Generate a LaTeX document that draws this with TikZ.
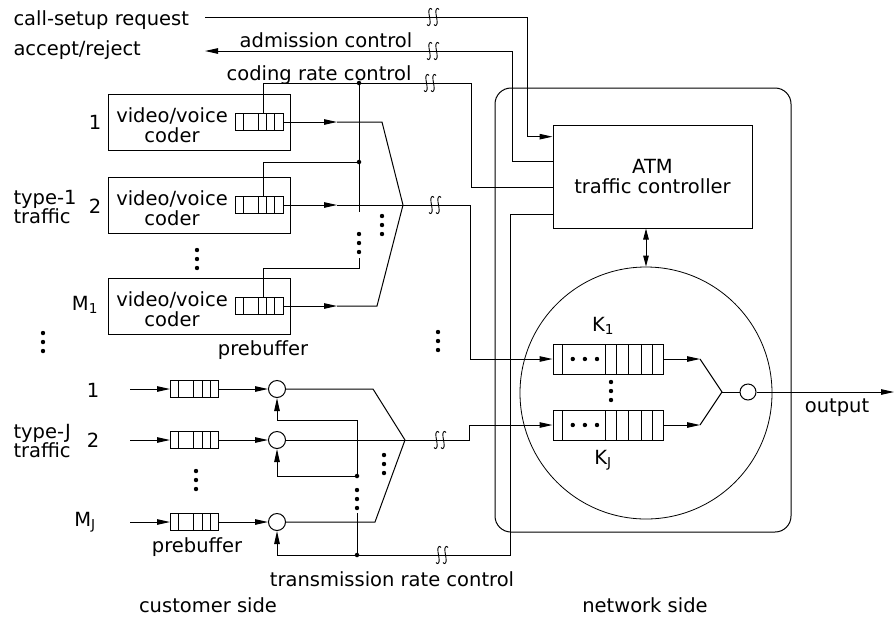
\documentclass[tikz,border=0pt]{standalone}
\usepackage{fontspec}
\setmainfont{DejaVu Sans}
\usetikzlibrary{arrows.meta,calc}

\tikzset{
  lbl/.style={inner sep=1pt, font=\fontsize{19.5}{19.5}\selectfont},
  arr/.style={-{Triangle[length=13pt,width=5.5pt]}},
  coder/.style={draw, minimum width=182pt, minimum height=56pt, inner sep=0pt},
  pbuf/.style={draw, fill=white, minimum width=48pt, minimum height=17pt, inner sep=0pt,
    path picture={\foreach \f in {0.17,0.48,0.66,0.83}
      \draw ($(path picture bounding box.north west)!\f!(path picture bounding box.north east)$)
         -- ($(path picture bounding box.south west)!\f!(path picture bounding box.south east)$);}},
  kbuf/.style={draw, fill=white, minimum width=110pt, minimum height=30pt, inner sep=0pt,
    path picture={\foreach \f in {0.09,0.473,0.58,0.69,0.80,0.90}
      \draw ($(path picture bounding box.north west)!\f!(path picture bounding box.north east)$)
         -- ($(path picture bounding box.south west)!\f!(path picture bounding box.south east)$);
      \foreach \f in {0.18,0.29,0.40}
      \fill[black] ($(path picture bounding box.west)!\f!(path picture bounding box.east)$) circle (2.2pt);}},
  srvc/.style={draw, circle, minimum size=17pt, inner sep=0pt},
  jdot/.style={circle, fill, inner sep=0pt, minimum size=4.5pt},
  % pics are drawn with y pointing up
  vdots/.pic={\fill (0,-9) circle (2.2pt) (0,0) circle (2.2pt) (0,9) circle (2.2pt);},
  brk/.pic={\foreach \d in {-3.5,3.5}
      \draw[line width=0.9pt] (\d+2.5,7.5) .. controls (\d+1,10) and (\d-1.5,8) .. (\d-0.5,3)
         -- (\d+0.5,-3) .. controls (\d+1.5,-8) and (\d-1,-10) .. (\d-2.5,-7.5);},
}

\begin{document}
\begin{tikzpicture}[x=1pt,y=1pt,yscale=-1,line width=1pt]
\useasboundingbox (0,0) rectangle (896,619);

% network side
\node[draw, rounded corners=16pt, minimum width=296pt, minimum height=444pt] (net) at (643,310) {};
\node[draw, line width=0.8pt, circle, minimum size=252pt, inner sep=0pt] (mux) at (646,393) {};
\node[draw, minimum width=199pt, minimum height=103pt, align=center, lbl] (ctl) at (652.5,176.5) {ATM\\traffic controller};
\node[kbuf] (q1) at (608,359) {};
\node[kbuf] (qJ) at (608,425) {};
\node[srvc, minimum size=16pt] (srv) at (748,392) {};
\node[lbl] (k1) at (603,326) {K\textsubscript{1}};
\node[lbl] (kJ) at (603,460) {K\textsubscript{J}};
\pic at (611,391) {vdots};
\draw[{Triangle[length=11pt,width=5.5pt]}-{Triangle[length=11pt,width=5.5pt]}] (mux.north |- ctl.south) -- (mux.north);

% controller entry points
\coordinate (ctlA) at ($(ctl.north west)!0.117!(ctl.south west)$);
\coordinate (ctlB) at ($(ctl.north west)!0.36!(ctl.south west)$);
\coordinate (ctlC) at ($(ctl.north west)!0.61!(ctl.south west)$);
\coordinate (ctlD) at ($(ctl.north west)!0.864!(ctl.south west)$);

% type-1 coders
\node[coder] (cod1) at (199,122) {};
\node[coder] (cod2) at (199,205) {};
\node[coder] (codM) at (199,306) {};
\node[lbl, align=center] (cod1t) at (172,125) {video/voice\\coder};
\node[lbl, align=center] (cod2t) at (172,208) {video/voice\\coder};
\node[lbl, align=center] (codMt) at (172,309) {video/voice\\coder};
\node[pbuf] (pb1) at (259,122) {};
\node[pbuf] (pb2) at (259,205) {};
\node[pbuf] (pbM) at (259,306) {};

% type-J sources
\node[pbuf] (jb1) at (194.5,389) {};
\node[pbuf] (jb2) at (194.5,440) {};
\node[pbuf] (jbM) at (194.5,522) {};
\node[srvc] (js1) at (277,389) {};
\node[srvc] (js2) at (277,440) {};
\node[srvc] (jsM) at (277,522) {};
\coordinate (ji1) at (130,389);
\coordinate (ji2) at (130,440);
\coordinate (jiM) at (130,522);

% call-setup request / admission control
\node[lbl, anchor=west] (csr) at (12,20) {call-setup request};
\node[lbl, anchor=west] (acc) at (12,50) {accept/reject};
\node[lbl] (adm) at (326,40) {admission control};
\node[lbl] (crc) at (319,75) {coding rate control};
\coordinate (cs0) at (205,17);
\coordinate (cs1) at (527,17);
\coordinate (ac0) at (205,51);
\coordinate (ac1) at (512,51);
\draw[arr] (cs0) -- (cs1) |- (ctlA);
\draw[arr] (ctlB) -| (ac1) -- (ac0);
\pic at (433,17) {brk};
\pic at (433,51) {brk};

% coding rate control
\coordinate (cr2) at (471,83);
\coordinate (cr1) at (263,83);
\coordinate (crj) at (359,83);
\coordinate (crk) at (359,162);
\coordinate (crv1) at (359,212);
\coordinate (crv2) at (359,258);
\coordinate (crm) at (359,268);
\draw (ctlC) -| (cr2) -- (cr1) -- (cr1 |- pb1.north);
\draw (crj) -- (crv1);
\draw (crk) -- (crk -| cr1) -- (cr1 |- pb2.north);
\draw (crv2) -- (crm) -| (cr1 |- pbM.north);
\node[jdot] at (crj) {};
\node[jdot] at (crk) {};
\pic at (430,83) {brk};
\pic at (359,243) {vdots};

% type-1 flows
\coordinate (a1) at (337,122);
\coordinate (a2) at (337,205);
\coordinate (aM) at (337,306);
\coordinate (b1) at (382,122);
\coordinate (bM) at (377,306);
\coordinate (mg1) at (403,205);
\coordinate (f1a) at (470,205);
\draw[arr] (pb1.east) -- (a1);
\draw[arr] (pb2.east) -- (a2);
\draw[arr] (pbM.east) -- (aM);
\draw (a1) -- (b1) -- (mg1);
\draw (a2) -- (mg1);
\draw (aM) -- (bM) -- (mg1);
\draw[arr] (mg1) -- (f1a) |- (q1.west);
\pic at (435,205) {brk};
\pic at (382,225) {vdots};

% type-J flows
\coordinate (jc1) at (373,389);
\coordinate (jcM) at (375,522);
\coordinate (mgJ) at (405,440);
\coordinate (fJa) at (469,440);
\foreach \r in {1,2,M} {
  \draw[arr] (ji\r) -- (jb\r.west);
  \draw[arr] (jb\r.east) -- (js\r.west);
}
\draw (js1.east) -- (jc1) -- (mgJ);
\draw (js2.east) -- (mgJ);
\draw (jsM.east) -- (jcM) -- (mgJ);
\draw[arr] (mgJ) -- (fJa) |- (qJ.west);
\pic at (440,440) {brk};
\pic at (384,464) {vdots};

% transmission rate control
\coordinate (tr2) at (510,555);
\coordinate (trj) at (357,555);
\coordinate (trk) at (357,476);
\coordinate (trv1) at (357,420);
\coordinate (trv2) at (357,513);
\draw[arr] (ctlD) -| (tr2) -| (jsM.south);
\draw (trj) -- (trv2);
\draw[arr] (trk) -- (trv1) -| (js1.south);
\draw[arr] (trk) -| (js2.south);
\node[jdot] at (trk) {};
\node[jdot] at (trj) {};
\pic at (442,555) {brk};
\pic at (357,499) {vdots};

% multiplexer output
\coordinate (o1) at (700,359);
\coordinate (oJ) at (700,425);
\coordinate (mo) at (722,392);
\coordinate (out) at (894,392);
\draw[arr] (q1.east) -- (o1);
\draw[arr] (qJ.east) -- (oJ);
\draw (o1) -- (mo) -- (oJ);
\draw (mo) -- (srv.west);
\draw[arr] (srv.east) -- (out);

% Text Node
\node[lbl] (n11) at (95,122) {1};
\node[lbl] (n12) at (95,206) {2};
\node[lbl] (n1M) at (85,305) {M\textsubscript{1}};
\node[lbl, anchor=west, align=left] (t1) at (12,207) {type-1\\traffic};
\node[lbl] (nJ1) at (93,390) {1};
\node[lbl] (nJ2) at (93,440) {2};
\node[lbl] (nJM) at (85,522) {M\textsubscript{J}};
\node[lbl, anchor=west, align=left] (tJ) at (12,441) {type-J\\traffic};
\node[lbl] (pre1) at (263,350) {prebuffer};
\node[lbl] (pre2) at (197,547) {prebuffer};
\node[lbl] (trc) at (392,579) {transmission rate control};
\node[lbl] (cus) at (208,605) {customer side};
\node[lbl] (nws) at (645,605) {network side};
\node[lbl] (outl) at (837,408) {output};
\pic at (197,259) {vdots};
\pic at (196,480) {vdots};
\pic at (43,342) {vdots};
\pic at (438,341) {vdots};
\end{tikzpicture}
\end{document}
